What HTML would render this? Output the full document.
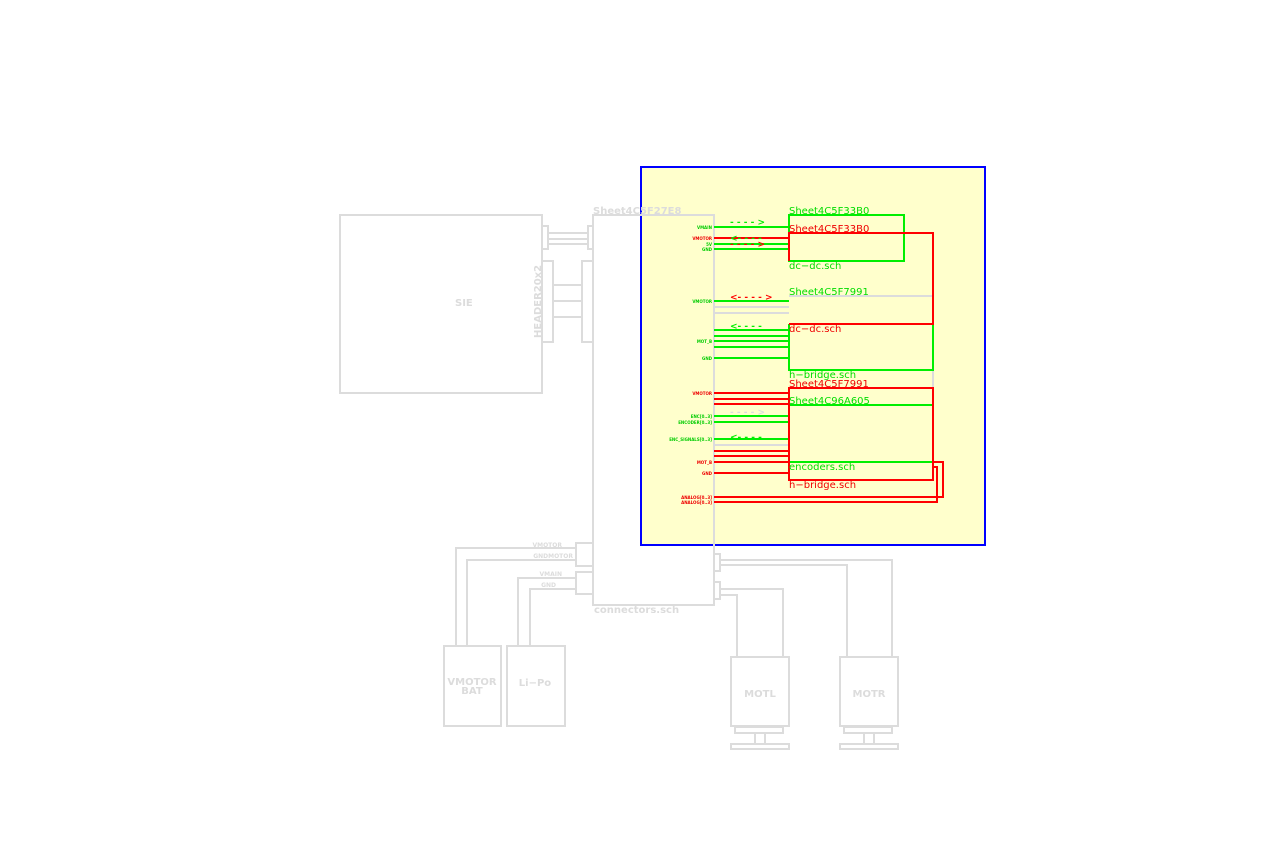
<!DOCTYPE html>
<html><head><meta charset="utf-8"><style>
html,body{margin:0;padding:0;background:#fff;width:1280px;height:850px;overflow:hidden}
svg{display:block}
text{font-family:"DejaVu Sans","Liberation Sans",sans-serif}
</style></head><body>
<svg width="1280" height="850" viewBox="0 0 1280 850" xmlns="http://www.w3.org/2000/svg">
<rect x="641" y="167" width="344" height="378" fill="#ffffcc" stroke="#0000ff" stroke-width="2"/>
<g fill="none" stroke="#dcdcdc" stroke-width="2">
<rect x="340" y="215" width="202" height="178"/>
<rect x="542" y="226" width="6" height="23"/><rect x="588" y="226" width="5" height="23"/>
<path d="M548 233H588M548 239H588M548 244H588"/>
<rect x="542" y="261" width="11" height="81"/><rect x="582" y="261" width="11" height="81"/>
<path d="M553 285H582M553 301H582M553 317H582"/>
<rect x="593" y="215" width="121" height="390"/>
<rect x="576" y="543" width="17" height="23"/><rect x="576" y="572" width="17" height="22"/>
<path d="M576 548H456V646M576 560H467V646M576 578H518V646M576 589H530V646"/>
<rect x="444" y="646" width="57" height="80"/><rect x="507" y="646" width="58" height="80"/>
<rect x="714" y="554" width="6" height="17"/><rect x="714" y="582" width="6" height="17"/>
<path d="M720 560H892V657M720 565H847V657M720 589H783V657M720 595H737V657"/>
<rect x="731" y="657" width="58" height="69"/><rect x="840" y="657" width="58" height="69"/>
<path d="M735 727H783V733H735ZM755 733V744M765 733V744M731 744H789V749H731Z"/>
<path d="M844 727H892V733H844ZM864 733V744M874 733V744M840 744H898V749H840Z"/>
<path d="M789 296H933V405"/>
<path d="M714 307H789M714 313H789M714 445H789"/>
</g>
<g fill="#dcdcdc" font-weight="bold">
<text x="455" y="306" font-size="10">SIE</text>
<text x="541" y="338" font-size="10" transform="rotate(-90 541 338)">HEADER20x2</text>
<text x="593" y="214" font-size="10">Sheet4C5F27E8</text>
<text x="594" y="613" font-size="10">connectors.sch</text>
<text x="472" y="685" font-size="10" text-anchor="middle">VMOTOR</text>
<text x="472" y="694" font-size="10" text-anchor="middle">BAT</text>
<text x="535" y="686" font-size="10" text-anchor="middle">Li−Po</text>
<text x="760" y="697" font-size="10" text-anchor="middle">MOTL</text>
<text x="869" y="697" font-size="10" text-anchor="middle">MOTR</text>
<text x="562" y="547" font-size="6" text-anchor="end">VMOTOR</text>
<text x="573" y="558" font-size="6" text-anchor="end">GNDMOTOR</text>
<text x="562" y="576" font-size="6" text-anchor="end">VMAIN</text>
<text x="556" y="587" font-size="6" text-anchor="end">GND</text>
</g>
<g fill="none" stroke="#00ee00" stroke-width="2">
<rect x="789" y="215" width="115" height="46"/>
<path d="M933 324V370H789V324M789 405H933M789 462H933"/>
<path d="M714 227H789M714 244H789M714 249H789M714 301H789M714 330H789M714 336H789M714 341H789M714 347H789M714 358H789M714 416H789M714 422H789M714 439H789"/>
</g>
<g fill="none" stroke="#ff0000" stroke-width="2">
<path d="M789 261V233H933V324H789"/>
<rect x="789" y="388" width="144" height="92"/>
<path d="M714 238H789M714 393H789M714 399H789M714 404H789M714 451H789M714 456H789M714 462H789M714 473H789"/>
<path d="M714 497H943V462H933M714 502H937V467H933"/>
</g>
<g font-size="10">
<text x="789" y="214" fill="#00dd00">Sheet4C5F33B0</text>
<text x="789" y="232" fill="#ee0000">Sheet4C5F33B0</text>
<text x="789" y="269" fill="#00dd00">dc−dc.sch</text>
<text x="789" y="295" fill="#00dd00">Sheet4C5F7991</text>
<text x="789" y="332" fill="#ee0000">dc−dc.sch</text>
<text x="789" y="378" fill="#00dd00">h−bridge.sch</text>
<text x="789" y="387" fill="#ee0000">Sheet4C5F7991</text>
<text x="789" y="404" fill="#00dd00">Sheet4C96A605</text>
<text x="789" y="470" fill="#00dd00">encoders.sch</text>
<text x="789" y="488" fill="#ee0000">h−bridge.sch</text>
</g>
<g font-size="9" font-weight="bold">
<text x="730" y="225" fill="#00ee00">- - - - &gt;</text>
<text x="730" y="247" fill="#ff0000">- - - - &gt;</text>
<text x="730" y="241" fill="#00ee00">&lt;- - - -</text>
<text x="730" y="300" fill="#ff0000">&lt;- - - - &gt;</text>
<text x="730" y="329" fill="#00ee00">&lt;- - - -</text>
<text x="730" y="415" fill="#dcdcdc">- - - - &gt;</text>
<text x="730" y="440" fill="#00ee00">&lt;- - - -</text>
</g>
<g font-size="4" font-weight="bold" text-anchor="end">
<text x="712" y="229" fill="#00cc00">VMAIN</text><text x="712" y="240" fill="#ee0000">VMOTOR</text>
<text x="712" y="246" fill="#00cc00">5V</text><text x="712" y="251" fill="#00cc00">GND</text>
<text x="712" y="303" fill="#00cc00">VMOTOR</text><text x="712" y="343" fill="#00cc00">MOT_B</text>
<text x="712" y="360" fill="#00cc00">GND</text><text x="712" y="395" fill="#ee0000">VMOTOR</text>
<text x="712" y="418" fill="#00cc00">ENC[0..3]</text><text x="712" y="424" fill="#00cc00">ENCODER[0..3]</text>
<text x="712" y="441" fill="#00cc00">ENC_SIGNALS[0..3]</text><text x="712" y="464" fill="#ee0000">MOT_B</text>
<text x="712" y="475" fill="#ee0000">GND</text><text x="712" y="499" fill="#ee0000">ANALOG[0..3]</text>
<text x="712" y="504" fill="#ee0000">ANALOG[0..3]</text>
</g>
</svg>
</body></html>
